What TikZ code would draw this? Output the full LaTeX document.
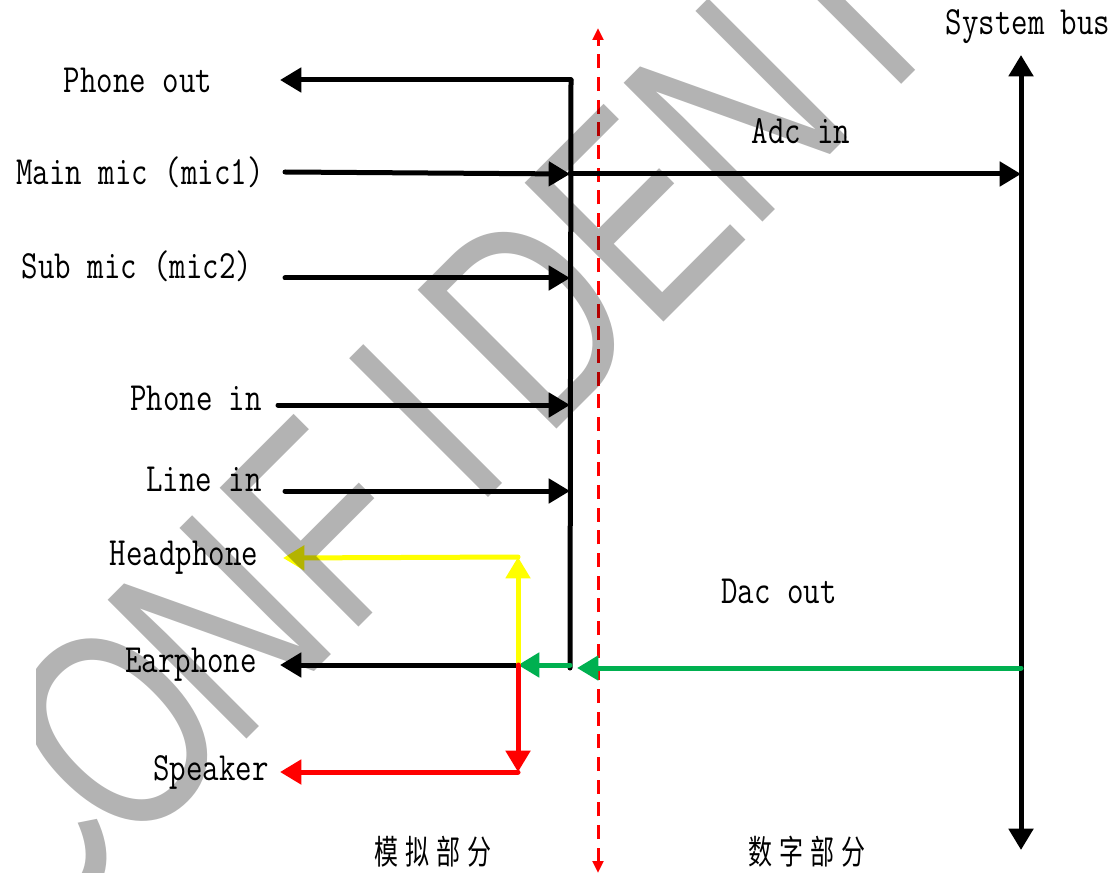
\documentclass[tikz,border=0pt]{standalone}
\usepackage{fontspec}
\usepackage{graphicx}
\newfontfamily\cjk{Noto Sans CJK SC}
\newfontfamily\wmfont{Liberation Sans}
\usetikzlibrary{arrows.meta}
\definecolor{wmgray}{RGB}{179,179,179}
\definecolor{ygreen}{RGB}{0,176,80}
\definecolor{yel}{RGB}{255,255,0}
\newcommand{\lbl}[1]{\scalebox{1}[1.25]{\fontsize{24}{28}\selectfont\ttfamily #1}}
\newcommand{\zh}[4]{\scalebox{1}[1.4]{\fontsize{18}{22}\selectfont\cjk #1\hspace{5.25pt}#2\hspace{5.25pt}#3\hspace{5.25pt}#4}}
\tikzset{
  wire/.style={line width=3.75pt, line cap=round},
  arr/.style={wire, -{Triangle[length=16pt,width=18pt]}},
  darr/.style={wire, {Triangle[length=16pt,width=18pt]}-{Triangle[length=16pt,width=18pt]}},
  sep/.style={line width=2.25pt, red, dash pattern=on 10.5pt off 6.5pt, {Triangle[length=9pt,width=8pt]}-{Triangle[length=9pt,width=8pt]}},
  lab/.style={inner sep=0pt},
  wm/.style={text=wmgray, inner sep=0pt, font=\wmfont\fontsize{214}{214}\selectfont}
}
\begin{document}
\begin{tikzpicture}[x=0.75pt,y=-0.75pt]
\useasboundingbox (0,0) rectangle (1113,873);
% labels
\node[lab] (lpo) at (138,80) {\lbl{Phone out}};
\node[lab] (lmm) at (140,172) {\lbl{Main mic (mic1)}};
\node[lab] (lsm) at (137,266) {\lbl{Sub mic (mic2)}};
\node[lab] (lpi) at (196,398) {\lbl{Phone in}};
\node[lab] (lli) at (204,479) {\lbl{Line in}};
\node[lab] (lhp) at (184,558) {\lbl{Headphone}};
\node[lab] (lep) at (191,665) {\lbl{Earphone}};
\node[lab] (lsp) at (211,772) {\lbl{Speaker}};
\node[lab] (ladc) at (801,131) {\lbl{Adc in}};
\node[lab] (ldac) at (779,591) {\lbl{Dac out}};
\node[lab] (lsb) at (1028,27) {\lbl{System bus}};
\node[lab] (lana) at (433,852) {\zh{模}{拟}{部}{分}};
\node[lab] (ldig) at (807,852) {\zh{数}{字}{部}{分}};
% coordinates
\coordinate (btop) at (571,80);
\coordinate (bbot) at (570,668);
\coordinate (g2s) at (570,665);
\coordinate (pot) at (280,80);
\coordinate (mms) at (285,172);
\coordinate (mmb) at (570,174);
\coordinate (sbm) at (1021,174);
\coordinate (sms) at (285,278);
\coordinate (smb) at (570,278);
\coordinate (pis) at (278,405);
\coordinate (pib) at (570,405);
\coordinate (lis) at (285,491);
\coordinate (lib) at (570,491);
\coordinate (sbt) at (1021,55);
\coordinate (sbb) at (1021,850);
\coordinate (sbg) at (1021,668);
\coordinate (gtip) at (577,668);
\coordinate (jn) at (518,665);
\coordinate (ept) at (280,665);
\coordinate (ytop) at (518,557);
\coordinate (hpt) at (283,558);
\coordinate (rbot) at (518,772);
\coordinate (spt) at (280,772);
\coordinate (dtop) at (598,28);
\coordinate (dbot) at (598,873);
% separator
\draw[sep] (dbot) -- (dtop);
% black
\draw[wire] (bbot) -- (btop);
\draw[arr] (btop) -- (pot);
\draw[arr] (mms) -- (mmb);
\draw[arr] (mmb) -- (sbm);
\draw[arr] (sms) -- (smb);
\draw[arr] (pis) -- (pib);
\draw[arr] (lis) -- (lib);
\draw[darr] (sbb) -- (sbt);
\draw[arr] (jn) -- (ept);
% green
\draw[arr, ygreen] (sbg) -- (gtip);
\draw[arr, ygreen] (g2s) -- (jn);
% yellow
\draw[arr, yel] (jn) -- (ytop);
\draw[arr, yel] (ytop) -- (hpt);
% red
\draw[arr, red] (jn) -- (rbot);
\draw[arr, red] (rbot) -- (spt);
% watermark
\begin{scope}[blend mode=multiply]
\clip (36,0) rectangle (1113,873);
\foreach \ch [count=\k from 0] in {C,O,N,F,I,D,E,N,T,I,A,L} {
  \pgfmathsetmacro{\ss}{-653+(\k+0.5)*146}
  \node[wm, rotate=45, anchor=base] (wm\k) at ({(\ss+697)/sqrt(2)}, {(697-\ss)/sqrt(2)}) {\scalebox{0.75}[1]{\ch}};
}
\end{scope}
\end{tikzpicture}
\end{document}
